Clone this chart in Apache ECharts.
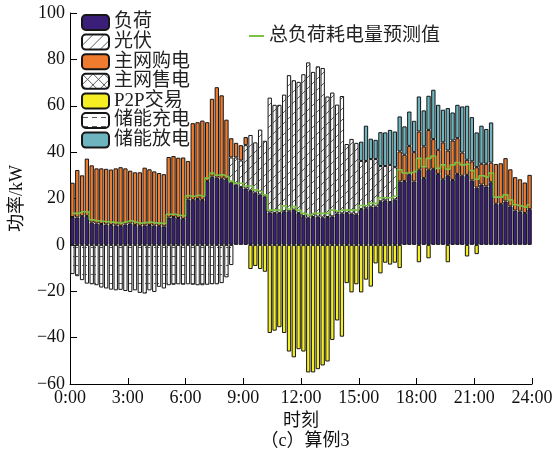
<!DOCTYPE html>
<html>
<head>
<meta charset="utf-8">
<script src="https://cdn.jsdelivr.net/npm/echarts@6/dist/echarts.min.js"></script>
<style>
  html, body { margin: 0; padding: 0; background: #fff; }
  #chart { width: 560px; height: 459px; }
</style>
</head>
<body>
<div id="chart"></div>
<script>
// 96 slots of 15 min, 0:00 - 24:00
const SLOTS = 96
const slots = Array.from({ length: SLOTS }, (_, i) => {
  const m = i * 15
  return Math.floor(m / 60) + ':' + String(m % 60).padStart(2, '0')
})
const hourTicks = [0, 3, 6, 9, 12, 15, 18, 21, 24]

const load = [12.0, 11.8, 12.4, 12.5, 9.6, 9.2, 9.0, 8.8, 8.6, 8.4, 8.2, 8.8, 9.2, 8.6, 8.2, 8.4, 8.6, 8.3, 8.2, 8.0,
  11.8, 12.0, 11.6, 11.2, 19.6, 19.4, 19.8, 19.4, 27.5, 29.5, 29.0, 28.5,
  28.3, 26.8, 26.0, 25.0, 24.3, 23.3, 22.5, 21.7, 20.9,
  14.0, 13.8, 13.8, 14.5, 14.5, 15.2, 13.8, 12.4, 11.7, 12.0, 12.2, 11.7, 12.0, 12.3, 13.5, 13.6,
  13.8, 13.5, 13.2, 15.5, 15.8, 16.5, 16.5, 18.8, 19.2, 18.5, 19.5,
  27.3, 27.5, 30.5, 27.3, 32.4, 28.8, 32.4, 32.8, 30.6, 28.3, 29.8, 28.0, 30.6, 29.8, 30.2, 27.8, 24.7, 26.0, 25.2, 27.0,
  17.7, 17.7, 18.7, 16.6, 14.8, 14.4, 13.7, 15.4]

const pv = [0, 0, 0, 0, 0, 0, 0, 0, 0, 0, 0, 0, 0, 0, 0, 0, 0, 0, 0, 0, 0, 0, 0, 0, 0, 0, 0, 0, 0, 0, 0, 0, 0,
  10.9, 11.7, 11.4, 18.7, 24.1, 21.7, 28.0, 24.0,
  49.5, 46.6, 46.6, 50.3, 58.7, 55.8, 56.5, 61.2, 67.0, 62.6, 64.8, 64.6, 52.0, 53.4, 47.0, 50.6,
  29.7, 32.2, 30.8, 20.7, 20.4, 20.5, 20.5, 15.2, 14.8, 16.0, 14.0,
  0, 0, 0, 0, 0, 0, 0, 0, 0, 0, 0, 0, 0, 0, 0, 0, 0, 0, 0, 0, 0, 0, 0, 0, 0, 0, 0, 0]

const gridBuy = [14.8, 20.5, 17.6, 24.7, 24.7, 23.8, 24.0, 24.0, 23.9, 24.6, 25.3, 24.2, 22.8, 22.7, 23.1, 24.9, 24.0, 23.4, 22.8, 22.5,
  26.1, 26.3, 26.0, 26.5, 16.6, 33.1, 33.1, 34.2, 25.4, 33.5, 39.0, 36.0, 25.7, 8.3, 6.3, 6.6, 3.5,
  0, 0, 0, 0, 0, 0, 0, 0, 0, 0, 0, 0, 0, 0, 0, 0, 0, 0, 0, 0, 0, 0, 0, 0, 0, 0, 0, 0, 0, 0, 0,
  13.0, 11.4, 12.2, 12.7, 16.5, 13.7, 17.2, 12.8, 10.4, 15.9, 10.9, 17.0, 15.4, 10.0, 6.5, 8.2, 8.8, 9.0, 9.8, 8.5,
  17.2, 17.5, 18.7, 16.0, 14.4, 13.9, 13.2, 14.8]

const gridSell = new Array(SLOTS).fill(0)

const p2p = [0, 0, 0, 0, 0, 0, 0, 0, 0, 0, 0, 0, 0, 0, 0, 0, 0, 0, 0, 0, 0, 0, 0, 0, 0, 0, 0, 0, 0, 0, 0, 0, 0, 0, 0, 0, 0,
  -10.4, -9.1, -10.4, -11.6, -38, -37, -35.5, -38, -46, -48.5, -45, -46,
  -55, -55, -53.6, -52, -50.3, -41, -32.6, -39.6, -16.5, -20.5, -17, -20.5, -15, -18, -8, -12.3, -7.7, -8.5, -7.7, -10,
  0, 0, 0, -7.5, 0, -5.8, 0, 0, 0, -7.5, 0, 0, 0, -5, 0, -4,
  0, 0, 0, 0, 0, 0, 0, 0, 0, 0, 0]

const charge = [-12.6, -13.5, -15.2, -16.7, -17.0, -17.4, -18.4, -18.8, -19.3, -19.6, -19.4, -19.9, -20.3, -19.6, -20.7, -21.0,
  -19.6, -20.3, -18.1, -18.8, -17.4, -17.2, -17.0, -17.2, -17.0, -17.2, -17.4, -17.4, -17.2, -17.0, -17.0, -16.5, -14.0, -8.7,
  0, 0, 0, 0, 0, 0, 0, 0, 0, 0, 0, 0, 0, 0, 0, 0, 0, 0, 0, 0, 0, 0, 0, 0, 0, 0, 0, 0, 0, 0, 0,
  0, 0, 0, 0, 0, 0, 0, 0, 0, 0, 0, 0, 0, 0, 0, 0, 0, 0, 0, 0, 0, 0, 0, 0, 0, 0, 0, 0, 0, 0, 0]

const discharge = [0, 0, 0, 0, 0, 0, 0, 0, 0, 0, 0, 0, 0, 0, 0, 0, 0, 0, 0, 0, 0, 0, 0, 0, 0, 0, 0, 0, 0, 0,
  0, 0, 0, 0, 0, 0, 0, 0, 0, 0, 0, 0, 0, 0, 0, 0, 0, 0, 0, 0, 0, 0, 0, 0, 0, 0, 0, 0, 0, 0,
  8.3, 15.2, 8.8, 8.3, 14.6, 14.5, 15.1, 15.4, 15.1, 12.2, 14.8, 13.5, 15.1, 15.5, 14.7, 21.3, 19.4, 14.1, 18.3, 12.1,
  14.4, 19.9, 23.3, 19.1, 15.0, 16.4, 15.0, 17.3,
  0, 0, 0, 0, 0, 0, 0, 0]

const forecast = [13.6, 13.6, 14.3, 14.3,
  10.8, 10.4, 10.2, 10.0, 9.8, 9.6, 9.4, 10.0, 10.4, 9.8, 9.4, 9.6, 9.8, 9.5, 9.4, 9.2,
  13.2, 13.2, 12.8, 12.5, 21.2, 21.0, 21.4, 21.0,
  28.8, 31.0, 30.0, 30.2, 29.5, 27.5, 26.6, 26.6, 25.4, 25.4, 23.7, 23.0, 21.6,
  15.0, 15.0, 15.0, 16.8, 15.5, 16.5, 15.0, 13.6, 12.8, 13.6, 13.6, 13.6, 13.6, 15.0, 14.5, 15.0, 15.0, 15.0, 15.0,
  17.0, 17.0, 17.9, 17.9, 20.3, 20.3, 20.3, 21.0,
  32.4, 31.0, 31.0, 31.6, 37.3, 33.7, 37.3, 38.3, 33.0, 34.5, 32.6, 34.5, 35.5, 34.5, 34.8, 32.1, 28.3, 29.8, 29.2, 31.0,
  20.6, 20.6, 21.6, 19.4, 17.3, 16.8, 16.2, 17.3]

const FONT = '"Liberation Serif", "Noto Sans CJK SC", serif'
const EDGE = '#161616'

// hatch fills
function makePattern(w, h, draw) {
  const c = document.createElement('canvas')
  c.width = w
  c.height = h
  const ctx = c.getContext('2d')
  ctx.fillStyle = '#ffffff'
  ctx.fillRect(0, 0, w, h)
  ctx.strokeStyle = '#333'
  ctx.lineWidth = 0.8
  draw(ctx, w, h)
  return { image: c, repeat: 'repeat' }
}

const pvFill = makePattern(11, 11, (ctx, w, h) => {
  ctx.beginPath()
  ctx.moveTo(0, h); ctx.lineTo(w, 0)
  ctx.stroke()
})
const sellFill = makePattern(11, 11, (ctx, w, h) => {
  ctx.beginPath()
  ctx.moveTo(0, h); ctx.lineTo(w, 0)
  ctx.moveTo(0, 0); ctx.lineTo(w, h)
  ctx.stroke()
})
const chargeFill = makePattern(9, 9, (ctx, w, h) => {
  ctx.beginPath()
  ctx.moveTo(1, 4.5); ctx.lineTo(6, 4.5)
  ctx.stroke()
})

function barSeries(name, values, color) {
  return {
    name,
    type: 'bar',
    stack: 'power',
    barCategoryGap: '10%',
    data: values.map(v => (v === 0 ? null : v)),
    itemStyle: { color, borderColor: EDGE, borderWidth: 1 },
    emphasis: { disabled: true }
  }
}

const chart = echarts.init(document.getElementById('chart'))

chart.setOption({
  animation: false,
  backgroundColor: '#fff',
  textStyle: { fontFamily: FONT },
  title: {
    text: '（c）算例3',
    left: 300,
    top: 427,
    textAlign: 'center',
    textStyle: { fontSize: 18, fontWeight: 'normal', fontFamily: FONT, color: '#111' }
  },
  grid: { left: 68, right: 28, top: 13, bottom: 75 },
  legend: [
    {
      data: ['负荷', '光伏', '主网购电', '主网售电', 'P2P交易', '储能充电', '储能放电'],
      orient: 'vertical',
      left: 76,
      top: 8,
      itemWidth: 27,
      itemHeight: 15,
      itemGap: 0.6,
      textStyle: { fontSize: 19, fontFamily: FONT, color: '#222', lineHeight: 19 }
    },
    {
      data: [{ name: '总负荷耗电量预测值', icon: 'rect' }],
      left: 244,
      top: 21,
      itemWidth: 15,
      itemHeight: 2,
      textStyle: { fontSize: 19, fontFamily: FONT, color: '#222', lineHeight: 20 }
    }
  ],
  xAxis: [
    {
      // slots for the bars, hidden
      type: 'category',
      data: slots,
      boundaryGap: true,
      show: false
    },
    {
      // hour scale that is drawn
      type: 'value',
      min: 0,
      max: 24,
      interval: 3,
      position: 'bottom',
      name: '时刻',
      nameLocation: 'middle',
      nameGap: 23,
      nameTextStyle: { fontSize: 18, fontFamily: FONT, color: '#111' },
      axisLine: { onZero: false, lineStyle: { color: '#000', width: 1 } },
      axisTick: { inside: true, length: 6, lineStyle: { color: '#000' } },
      axisLabel: {
        fontSize: 18, fontFamily: FONT, color: '#111', margin: 5,
        formatter: v => hourTicks.includes(v) ? v + ':00' : ''
      },
      splitLine: { show: false }
    }
  ],
  yAxis: {
    type: 'value',
    min: -60,
    max: 100,
    interval: 20,
    name: '功率/kW',
    nameLocation: 'middle',
    nameGap: 42,
    nameTextStyle: { fontSize: 18, fontFamily: FONT, color: '#111' },
    axisLine: { show: true, lineStyle: { color: '#000', width: 1 } },
    axisTick: { inside: true, length: 7, lineStyle: { color: '#000' } },
    axisLabel: {
      fontSize: 18, fontFamily: FONT, color: '#111', margin: 5,
      formatter: v => v < 0 ? '\u2212' + Math.abs(v) : String(v)
    },
    splitLine: { show: false }
  },
  series: [
    barSeries('负荷', load, '#3b1e78'),
    barSeries('光伏', pv, pvFill),
    barSeries('主网购电', gridBuy, '#ef7b2f'),
    barSeries('储能放电', discharge, '#6db4bf'),
    barSeries('主网售电', gridSell, sellFill),
    barSeries('P2P交易', p2p, '#f4ee22'),
    barSeries('储能充电', charge, chargeFill),
    {
      name: '总负荷耗电量预测值',
      type: 'line',
      step: 'middle',
      symbol: 'none',
      z: 5,
      data: forecast,
      lineStyle: { color: '#7cc143', width: 1.6 },
      itemStyle: { color: '#7cc143' },
      emphasis: { disabled: true }
    }
  ]
})
</script>
</body>
</html>
